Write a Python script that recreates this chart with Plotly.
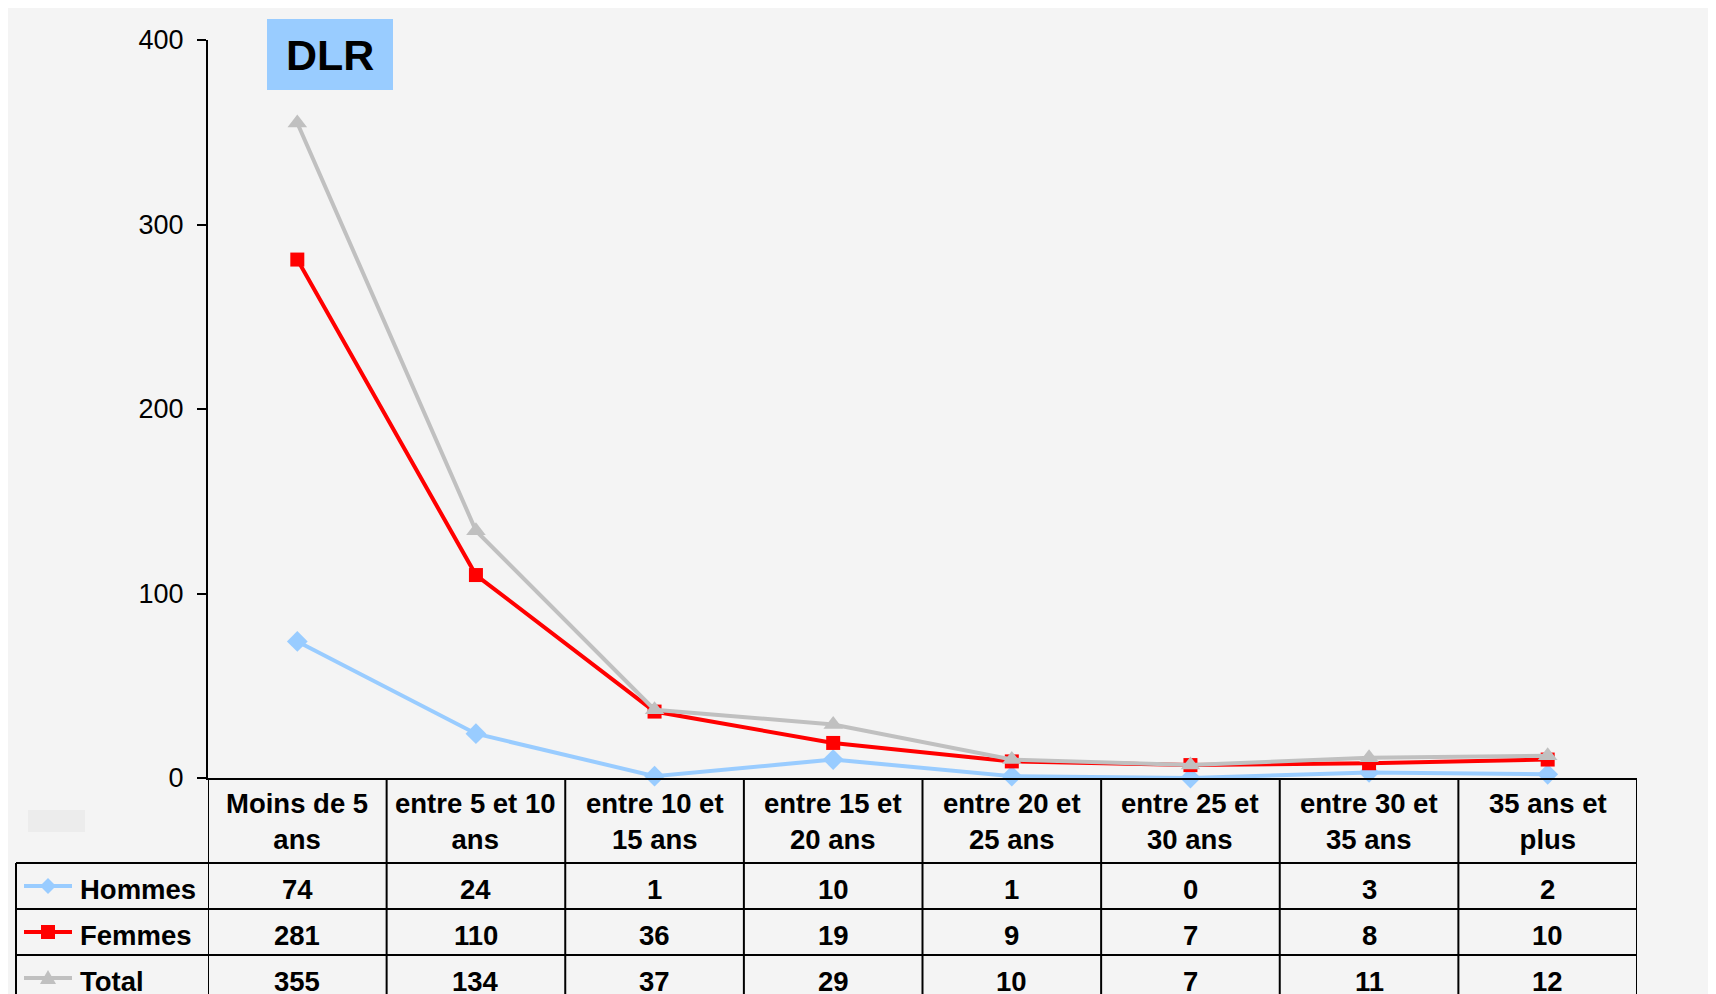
import plotly.graph_objects as go

# ---------------- data ----------------
categories = ["Moins de 5<br>ans", "entre 5 et 10<br>ans", "entre 10 et<br>15 ans",
              "entre 15 et<br>20 ans", "entre 20 et<br>25 ans", "entre 25 et<br>30 ans",
              "entre 30 et<br>35 ans", "35 ans et<br>plus"]
hommes = [74, 24, 1, 10, 1, 0, 3, 2]
femmes = [281, 110, 36, 19, 9, 7, 8, 10]
total = [355, 134, 37, 29, 10, 7, 11, 12]
series_names = ["Hommes", "Femmes", "Total"]
y_ticks = [0, 100, 200, 300, 400]
title_text = "DLR"

# ---------------- layout geometry ----------------
OFF = 8  # page body margin
W, H = 1716, 994
# target page coordinates: plot area x 208..1637, y 40..778
L, R, T, B = 208 - OFF, 1716 - (1637 - OFF), 40 - OFF, 994 - (778 - OFF)
PW, PH = W - L - R, H - T - B
FONT = "Arial, Liberation Sans, sans-serif"
BG = "#f4f4f4"
FS = 27.5


def px(xp):
    return (xp - OFF - L) / PW


def py(yp):
    return (T + PH - (yp - OFF)) / PH


colors = ["#99ccff", "#ff0000", "#c0c0c0"]
symbols = ["diamond", "square", "triangle-up"]
msizes = [16, 14, 17]
values = [hommes, femmes, total]
xs = list(range(len(categories)))

fig = go.Figure()
for name, vals, c, s, ms in zip(series_names, values, colors, symbols, msizes):
    fig.add_trace(go.Scatter(
        x=xs, y=vals, name=name, mode="lines+markers",
        line=dict(color=c, width=4),
        marker=dict(symbol=s, size=ms, color=c),
        cliponaxis=False, showlegend=False))

shapes = []
annotations = []

# background panel
shapes.append(dict(type="rect", xref="paper", yref="paper", x0=px(7), x1=px(1714),
                   y0=py(1010), y1=py(6), fillcolor=BG, line=dict(width=0), layer="below"))
# small grey patch
shapes.append(dict(type="rect", xref="paper", yref="paper", x0=px(28), x1=px(85),
                   y0=py(832), y1=py(810), fillcolor="#ececec", line=dict(width=0), layer="below"))

# title box
shapes.append(dict(type="rect", xref="paper", yref="paper", x0=px(267), x1=px(393),
                   y0=py(90), y1=py(19), fillcolor="#99ccff", line=dict(width=0)))
annotations.append(dict(text="<b>" + title_text + "</b>", xref="paper", yref="paper",
                        x=px(330), y=py(55), showarrow=False, xanchor="center", yanchor="middle",
                        font=dict(family=FONT, size=43, color="black")))

# table geometry
row_lines = [863, 909, 955, 1001]
line_style = dict(color="black", width=2)
n = len(categories)
for i in range(n + 1):
    shapes.append(dict(type="line", xref="x", yref="paper", x0=i - 0.5, x1=i - 0.5,
                       y0=py(778), y1=py(1010), line=line_style))
shapes.append(dict(type="line", xref="paper", yref="paper", x0=px(16), x1=px(16),
                   y0=py(row_lines[0]), y1=py(1010), line=line_style))
for yl in row_lines:
    shapes.append(dict(type="line", xref="paper", yref="paper", x0=px(16), x1=px(1637),
                       y0=py(yl), y1=py(yl), line=line_style))

# header labels
for i, cat in enumerate(categories):
    annotations.append(dict(text="<b>" + cat + "</b>", xref="x", yref="paper", x=i,
                            y=py(821), showarrow=False, xanchor="center", yanchor="middle",
                            font=dict(family=FONT, size=FS, color="black")))

# row values and legend keys
row_centers = [(row_lines[k] + row_lines[k + 1]) / 2 + 3 for k in range(3)]
for k, (name, vals, c) in enumerate(zip(series_names, values, colors)):
    yc = row_centers[k]
    for i, v in enumerate(vals):
        annotations.append(dict(text="<b>%d</b>" % v, xref="x", yref="paper", x=i,
                                y=py(yc), showarrow=False, xanchor="center", yanchor="middle",
                                font=dict(family=FONT, size=FS, color="black")))
    annotations.append(dict(text="<b>" + name + "</b>", xref="paper", yref="paper", x=px(78),
                            y=py(yc), showarrow=False, xanchor="left", yanchor="middle",
                            font=dict(family=FONT, size=FS, color="black")))
    ly = yc - 3
    shapes.append(dict(type="line", xref="paper", yref="paper", x0=px(24), x1=px(72),
                       y0=py(ly), y1=py(ly), line=dict(color=c, width=4)))
    if symbols[k] == "diamond":
        path = "M -8 0 L 0 8 L 8 0 L 0 -8 Z"
    elif symbols[k] == "square":
        path = "M -7 -7 L 7 -7 L 7 7 L -7 7 Z"
    else:
        path = "M -8 -6 L 8 -6 L 0 8 Z"
    shapes.append(dict(type="path", xref="paper", yref="paper", xsizemode="pixel",
                       ysizemode="pixel", xanchor=px(48), yanchor=py(ly), path=path,
                       fillcolor=c, line=dict(width=0)))

fig.update_layout(
    width=W, height=H,
    margin=dict(l=L, r=R, t=T, b=B, pad=0),
    paper_bgcolor="white", plot_bgcolor="rgba(0,0,0,0)",
    font=dict(family=FONT, size=27, color="black"),
    shapes=shapes, annotations=annotations,
    xaxis=dict(range=[-0.5, n - 0.5], showticklabels=False, ticks="", showgrid=False,
               zeroline=False, showline=True, linecolor="black", linewidth=2, fixedrange=True),
    yaxis=dict(range=[0, 400], tickvals=y_ticks, ticks="outside", ticklen=9, tickwidth=2,
               tickcolor="black", showline=True, linecolor="black", linewidth=2,
               showgrid=False, zeroline=False, ticklabelstandoff=8,
               tickfont=dict(family=FONT, size=27, color="black")),
)

fig.write_html("out.html")
